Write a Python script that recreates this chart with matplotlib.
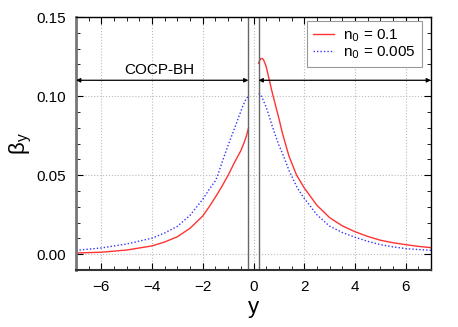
import matplotlib
matplotlib.use('Agg')
import matplotlib.pyplot as plt
from matplotlib.ticker import MultipleLocator, FormatStrFormatter

plt.rcParams['font.family'] = ['Liberation Sans', 'DejaVu Sans']

# n0 = 0.1 (red), left and right branches
y_red_left = [-7.0, -6.0, -5.0, -4.0, -3.5, -3.0, -2.5, -2.0, -1.75, -1.5, -1.25, -1.0, -0.75, -0.5, -0.36, -0.28, -0.2]
b_red_left = [0.0008, 0.0013, 0.0027, 0.0053, 0.0078, 0.0111, 0.0165, 0.0242, 0.030, 0.0362, 0.0428, 0.050, 0.058, 0.0655, 0.071, 0.0748, 0.0797]
y_red_right = [0.2, 0.25, 0.3, 0.35, 0.4, 0.5, 0.62, 0.75, 0.88, 1.0, 1.14, 1.4, 1.7, 2.0, 2.5, 3.0, 3.5, 4.0, 4.5, 5.0, 5.5, 6.0, 6.5, 7.0]
b_red_right = [0.1207, 0.1228, 0.1238, 0.1237, 0.1228, 0.1187, 0.1103, 0.1015, 0.0934, 0.086, 0.0766, 0.062, 0.050, 0.042, 0.031, 0.0232, 0.018, 0.0143, 0.0113, 0.0089, 0.0073, 0.0061, 0.005, 0.0042]

# n0 = 0.005 (blue)
y_blue_left = [-7.0, -6.0, -5.0, -4.0, -3.5, -3.0, -2.5, -2.0, -1.75, -1.5, -1.41, -1.22, -1.0, -0.82, -0.6, -0.43, -0.3, -0.2]
b_blue_left = [0.0025, 0.004, 0.0065, 0.0102, 0.0135, 0.0177, 0.0247, 0.0348, 0.041, 0.0465, 0.050, 0.059, 0.069, 0.0766, 0.086, 0.0934, 0.098, 0.100]
y_blue_right = [0.2, 0.25, 0.35, 0.5, 0.62, 0.75, 0.88, 1.0, 1.14, 1.4, 1.73, 2.0, 2.5, 3.0, 3.5, 4.0, 4.5, 5.0, 5.5, 6.0, 6.5, 7.0]
b_blue_right = [0.1015, 0.1015, 0.0987, 0.093, 0.0871, 0.0805, 0.0744, 0.069, 0.0639, 0.053, 0.0418, 0.0354, 0.025, 0.0178, 0.0138, 0.0108, 0.0082, 0.0061, 0.0047, 0.0036, 0.003, 0.0025]

y_cut = 0.2
arrow_level = 0.11

fig = plt.figure(figsize=(4.58, 3.27), dpi=100)
ax = fig.add_axes([0.166, 0.174, 0.775, 0.774])

ax.plot(y_red_left, b_red_left, color='#ff3333', lw=1.0, label=r'n$_0$ = 0.1')
ax.plot(y_red_right, b_red_right, color='#ff3333', lw=1.0)
ax.plot(y_blue_left, b_blue_left, color='#3333ff', lw=1.0, ls=(0, (1, 1.5)), label=r'n$_0$ = 0.005')
ax.plot(y_blue_right, b_blue_right, color='#3333ff', lw=1.0, ls=(0, (1, 1.5)))

ax.axvline(-y_cut, color='#666666', lw=1.0)
ax.axvline(y_cut, color='#666666', lw=1.0)

arrow = dict(arrowstyle='<|-|>', color='black', lw=0.9, mutation_scale=6, shrinkA=0, shrinkB=0)
ax.annotate('', xy=(-7, arrow_level), xytext=(-y_cut, arrow_level), arrowprops=arrow)
ax.annotate('', xy=(y_cut, arrow_level), xytext=(7, arrow_level), arrowprops=arrow)
ax.text(-3.7, arrow_level + 0.002, 'COCP-BH', ha='center', va='bottom', fontsize=11)

ax.set_xlim(-7, 7)
ax.set_ylim(-0.01, 0.15)
ax.xaxis.set_major_locator(MultipleLocator(2))
ax.xaxis.set_minor_locator(MultipleLocator(0.5))
ax.yaxis.set_major_locator(MultipleLocator(0.05))
ax.yaxis.set_minor_locator(MultipleLocator(0.01))
ax.yaxis.set_major_formatter(FormatStrFormatter('%.2f'))
ax.tick_params(which='both', direction='in', top=True, right=True, labelsize=11, pad=7)
ax.tick_params(which='major', length=5)
ax.tick_params(which='minor', length=3)
ax.grid(True, which='major', color='#bbbbbb', ls=':', lw=0.8)

for side in ['top', 'right', 'bottom']:
    ax.spines[side].set_linewidth(1.0)
ax.spines['left'].set_linewidth(2.0)
ax.spines['left'].set_color('#777777')
ax.spines['bottom'].set_linewidth(1.5)
ax.spines['bottom'].set_color('#333333')

ax.set_xlabel('y', fontsize=16, labelpad=2)
ax.set_ylabel(r'$\mathregular{\beta_y}$', fontsize=16, labelpad=2)

leg = ax.legend(loc='upper right', fontsize=11, fancybox=False, framealpha=1,
                edgecolor='#999999', handlelength=1.4, handletextpad=0.6, borderpad=0.4,
                labelspacing=0.05, borderaxespad=0.0, bbox_to_anchor=(0.975, 0.984))
leg.get_frame().set_linewidth(0.8)

fig.savefig('out.png', dpi=100)
